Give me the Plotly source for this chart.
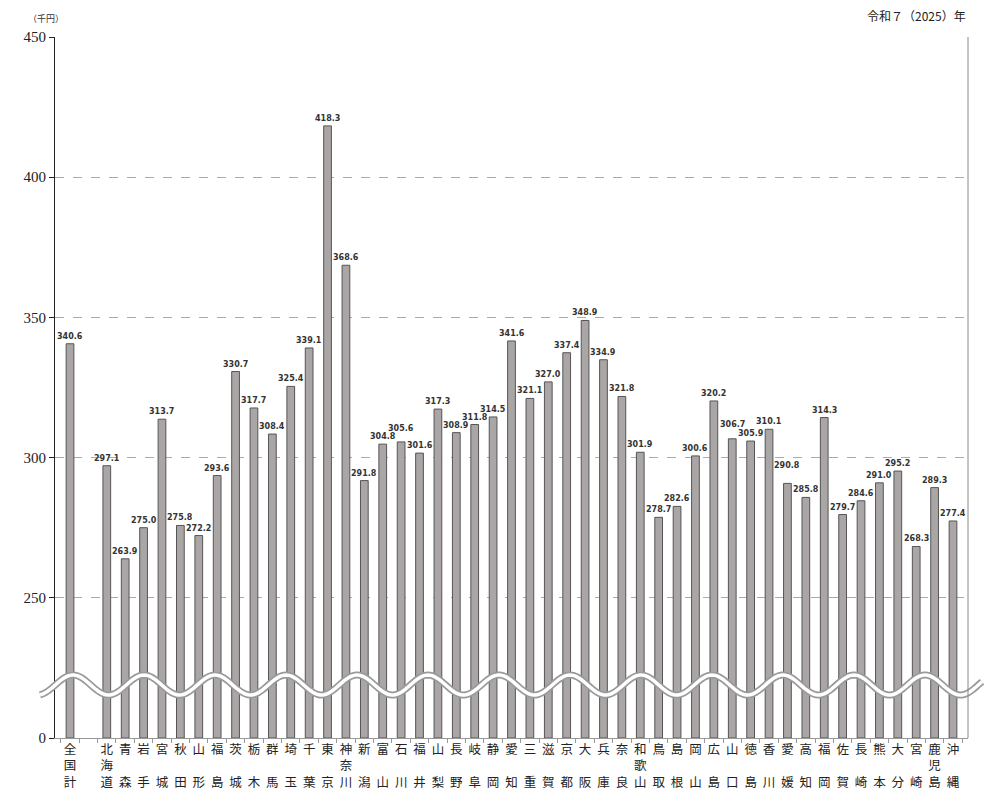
import math
import plotly.graph_objects as go

# ---- data ----
categories = ["全国計", "", "北海道", "青森", "岩手", "宮城", "秋田", "山形", "福島", "茨城", "栃木",
              "群馬", "埼玉", "千葉", "東京", "神奈川", "新潟", "富山", "石川", "福井", "山梨",
              "長野", "岐阜", "静岡", "愛知", "三重", "滋賀", "京都", "大阪", "兵庫", "奈良",
              "和歌山", "鳥取", "島根", "岡山", "広島", "山口", "徳島", "香川", "愛媛", "高知",
              "福岡", "佐賀", "長崎", "熊本", "大分", "宮崎", "鹿児島", "沖縄"]
values = [340.6, None, 297.1, 263.9, 275.0, 313.7, 275.8, 272.2, 293.6, 330.7, 317.7,
          308.4, 325.4, 339.1, 418.3, 368.6, 291.8, 304.8, 305.6, 301.6, 317.3,
          308.9, 311.8, 314.5, 341.6, 321.1, 327.0, 337.4, 348.9, 334.9, 321.8,
          301.9, 278.7, 282.6, 300.6, 320.2, 306.7, 305.9, 310.1, 290.8, 285.8,
          314.3, 279.7, 284.6, 291.0, 295.2, 268.3, 289.3, 277.4]
y_tick_values = [0, 250, 300, 350, 400, 450]
BREAK_OFFSET = 200  # values >= 250 are shown shifted down by this (broken axis)

# extra vertical nudge (px) of some value labels so that they do not collide
label_raise = {"石川": 6, "山口": 7, "愛媛": 10}


def display(v):
    return v - BREAK_OFFSET if v else 0


def stack(name, i):
    if name == "":
        return " " * (i + 1)
    if len(name) == 2:
        return name[0] + "<br> <br>" + name[1]
    return "<br>".join(name)


x_labels = [stack(c, i) for i, c in enumerate(categories)]
y_disp = [display(v) if v is not None else None for v in values]
tick_disp = [0 if t == 0 else t - BREAK_OFFSET for t in y_tick_values]

fig = go.Figure()
fig.add_trace(go.Bar(
    x=x_labels, y=y_disp,
    customdata=values, hovertemplate="%{customdata}<extra></extra>",
    marker=dict(color="#aaa6a6", line=dict(color="#555555", width=1)),
    width=0.42,
))

annotations = []
for c, xl, v, yd in zip(categories, x_labels, values, y_disp):
    if v is None:
        continue
    annotations.append(dict(
        x=xl, y=yd, xref="x", yref="y", text=f"{v:.1f}", showarrow=False,
        yanchor="bottom", xanchor="center", yshift=1 + label_raise.get(c, 0),
        font=dict(family="DejaVu Sans", size=8, color="#333333", weight="bold"),
    ))

W, H = 993, 795
L, R, T, B = 55, 25, 37, 57
pw, ph = W - L - R, H - T - B


def px2paper(x, y):
    return (x - L) / pw, (H - B - y) / ph


pts = []
x = 40.0
while x <= 982:
    yy = 685 - 10 * math.cos(2 * math.pi * (x - 73) / 71)
    pts.append(px2paper(x, yy))
    x += 2
path = "M " + " L ".join(f"{a:.5f},{b:.5f}" for a, b in pts)

shapes = [
    dict(type="path", path=path, xref="paper", yref="paper",
         line=dict(color="#9a9a9a", width=7), layer="above"),
    dict(type="path", path=path, xref="paper", yref="paper",
         line=dict(color="white", width=3.5), layer="above"),
    dict(type="line", xref="paper", yref="paper", x0=1, x1=1, y0=0, y1=1,
         line=dict(color="#888888", width=1), layer="above"),
]

annotations += [
    dict(text="（千円）", xref="paper", yref="paper",
         x=(26 - L) / pw, y=(H - B - 19) / ph, xanchor="left", yanchor="middle",
         showarrow=False, font=dict(family="Noto Sans CJK JP", size=9, color="#333333")),
    dict(text="令和７（2025）年", xref="paper", yref="paper",
         x=1.0, y=(H - B - 16) / ph, xanchor="right", yanchor="middle",
         showarrow=False, font=dict(family="Noto Sans CJK JP", size=12, color="#222222")),
]

fig.update_layout(
    width=W, height=H,
    margin=dict(l=L, r=R, t=T, b=B),
    plot_bgcolor="white", paper_bgcolor="white",
    showlegend=False,
    shapes=shapes,
    annotations=annotations,
    xaxis=dict(
        type="category", tickson="boundaries", ticks="outside", ticklen=4,
        tickcolor="#999999", showline=True, linecolor="#999999", linewidth=1,
        showgrid=False, tickangle=0, automargin=False,
        tickfont=dict(family="Noto Sans CJK JP", size=12.5, color="#222222"),
    ),
    yaxis=dict(
        range=[0, 250], tickvals=tick_disp, ticktext=[str(t) for t in y_tick_values],
        ticks="outside", ticklen=5, tickcolor="#222222", automargin=False,
        showline=True, linecolor="#222222", linewidth=1.2,
        showgrid=True, gridcolor="#aaaaaa", griddash="dash", gridwidth=1,
        zeroline=False,
        tickfont=dict(family="Liberation Serif", size=15, color="#222222"),
    ),
)

fig.write_html("out.html", config={"displayModeBar": False},
               post_script="document.body.style.margin='0';document.body.style.overflow='hidden';")
